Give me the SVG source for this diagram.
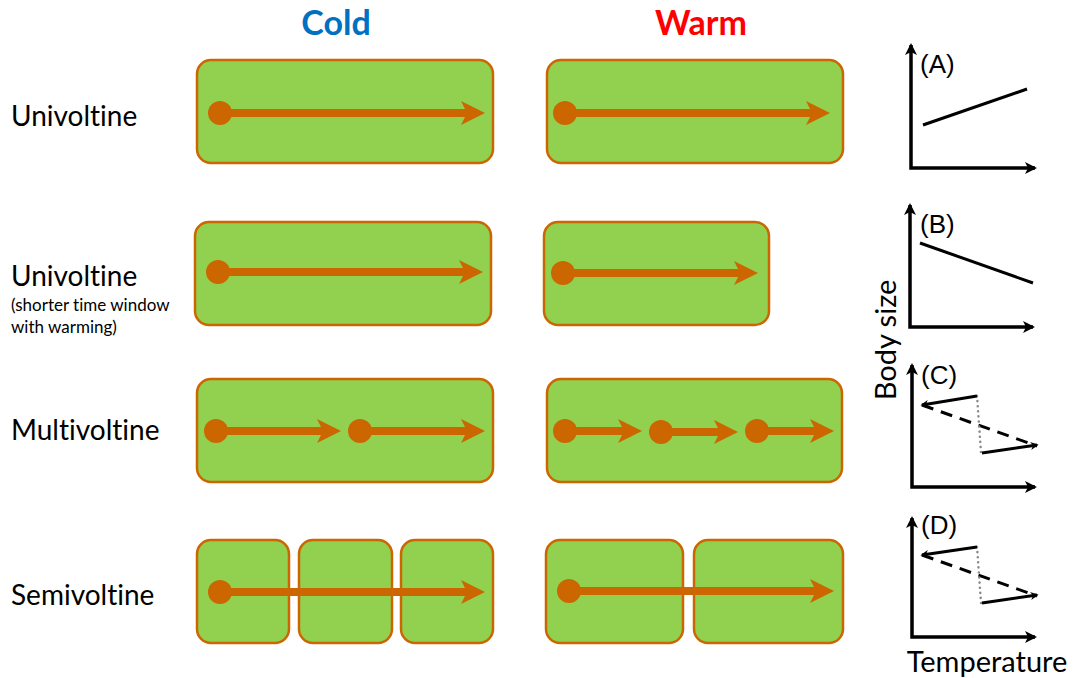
<svg xmlns="http://www.w3.org/2000/svg" width="1075" height="678" viewBox="0 0 1075 678">
  <style>
    .box { fill: #92D050; stroke: #CC6600; stroke-width: 2.5; }
    .shaft { stroke: #CC6600; stroke-width: 8; fill: none; }
    .dot { fill: #CC6600; }
    .label { font-family: Lato, "Open Sans", "Liberation Sans", sans-serif; fill: #000; font-variant-ligatures: none; }
    .row { font-size: 28px; }
    .note { font-size: 17px; }
    .title { font-size: 34px; font-weight: bold; text-anchor: middle; }
    .axis { stroke: #000; stroke-width: 3.5; fill: none; }
    .trend { stroke: #000; stroke-width: 3; fill: none; }
    .dash { stroke: #000; stroke-width: 3; fill: none; stroke-dasharray: 12 8; }
    .dotted { stroke: #888; stroke-width: 2.5; fill: none; stroke-dasharray: 0.1 5; stroke-linecap: round; }
    .panel { font-family: "Liberation Sans", Arial, sans-serif; font-size: 26px; fill: #000; }
    .axtitle { font-family: Lato, "Open Sans", "Liberation Sans", sans-serif; font-size: 29px; fill: #000; font-variant-ligatures: none; }
  </style>
  <defs>
    <!-- filled orange arrowhead; tip lies 16 units past the line end -->
    <marker id="head" viewBox="0 0 24 24" refX="8" refY="12" markerWidth="24" markerHeight="24" markerUnits="userSpaceOnUse" orient="auto">
      <path d="M0,0 L24,12 L0,24 L6,12 Z" fill="#CC6600"/>
    </marker>
    <marker id="axhead" viewBox="0 0 12 12" refX="10" refY="6" markerWidth="12" markerHeight="12" markerUnits="userSpaceOnUse" orient="auto-start-reverse">
      <path d="M0,0 L12,6 L0,12 L3,6 Z" fill="#000"/>
    </marker>
    <marker id="thead" viewBox="0 0 10 10" refX="8" refY="5" markerWidth="8" markerHeight="8" markerUnits="userSpaceOnUse" orient="auto">
      <path d="M0,0 L10,5 L0,10 L3,5 Z" fill="#000"/>
    </marker>
  </defs>

  <!-- column headings -->
  <g id="headings">
    <text class="label title" x="336" y="35" style="fill:#0070C0">Cold</text>
    <text class="label title" x="701" y="35" style="fill:#FF0000">Warm</text>
  </g>

  <!-- row labels -->
  <g id="row-labels">
    <text class="label row" x="11" y="126">Univoltine</text>
    <text class="label row" x="11" y="286">Univoltine</text>
    <text class="label note" x="11" y="311">(shorter time window</text>
    <text class="label note" x="11" y="333">with warming)</text>
    <text class="label row" x="11" y="440">Multivoltine</text>
    <text class="label row" x="11" y="605">Semivoltine</text>
  </g>

  <!-- season blocks -->
  <g id="cold-univoltine"><rect class="box" x="197" y="60" width="296" height="103" rx="14"/></g>
  <g id="warm-univoltine"><rect class="box" x="547" y="60" width="296" height="103" rx="14"/></g>
  <g id="cold-univoltine-short"><rect class="box" x="195" y="222" width="296" height="103" rx="14"/></g>
  <g id="warm-univoltine-short"><rect class="box" x="544" y="222" width="225" height="103" rx="14"/></g>
  <g id="cold-multivoltine"><rect class="box" x="197" y="379" width="296" height="103" rx="14"/></g>
  <g id="warm-multivoltine"><rect class="box" x="547" y="379" width="295" height="103" rx="14"/></g>
  <g id="cold-semivoltine">
    <rect class="box" x="197" y="540" width="92" height="103" rx="14"/>
    <rect class="box" x="299" y="540" width="93" height="103" rx="14"/>
    <rect class="box" x="401" y="540" width="92" height="103" rx="14"/>
  </g>
  <g id="warm-semivoltine">
    <rect class="box" x="546" y="540" width="137" height="103" rx="14"/>
    <rect class="box" x="694" y="540" width="149" height="103" rx="14"/>
  </g>

  <!-- generation arrows -->
  <g id="connectors">
    <circle class="dot" cx="220" cy="113" r="12"/>
    <line class="shaft" x1="220" y1="113" x2="469" y2="113" marker-end="url(#head)"/>
    <circle class="dot" cx="565" cy="113" r="12"/>
    <line class="shaft" x1="565" y1="113" x2="814" y2="113" marker-end="url(#head)"/>

    <circle class="dot" cx="218" cy="272" r="12"/>
    <line class="shaft" x1="218" y1="272" x2="467" y2="272" marker-end="url(#head)"/>
    <circle class="dot" cx="563" cy="273" r="12"/>
    <line class="shaft" x1="563" y1="273" x2="742" y2="273" marker-end="url(#head)"/>

    <circle class="dot" cx="216" cy="431" r="12"/>
    <line class="shaft" x1="216" y1="431" x2="325" y2="431" marker-end="url(#head)"/>
    <circle class="dot" cx="360" cy="431" r="12"/>
    <line class="shaft" x1="360" y1="431" x2="469" y2="431" marker-end="url(#head)"/>

    <circle class="dot" cx="565" cy="431" r="12"/>
    <line class="shaft" x1="565" y1="431" x2="626" y2="431" marker-end="url(#head)"/>
    <circle class="dot" cx="661" cy="432" r="12"/>
    <line class="shaft" x1="661" y1="432" x2="722" y2="432" marker-end="url(#head)"/>
    <circle class="dot" cx="757" cy="431" r="12"/>
    <line class="shaft" x1="757" y1="431" x2="818" y2="431" marker-end="url(#head)"/>

    <circle class="dot" cx="220" cy="592" r="12"/>
    <line class="shaft" x1="220" y1="592" x2="469" y2="592" marker-end="url(#head)"/>
    <circle class="dot" cx="569" cy="591" r="12"/>
    <line class="shaft" x1="569" y1="591" x2="818" y2="591" marker-end="url(#head)"/>
  </g>

  <!-- body size vs temperature panels -->
  <g id="panel-a">
    <polyline class="axis" points="911,45 911,168 1035,168" marker-start="url(#axhead)" marker-end="url(#axhead)"/>
    <line class="trend" x1="923" y1="125" x2="1027" y2="89"/>
    <text class="panel" x="920" y="73">(A)</text>
  </g>
  <g id="panel-b">
    <polyline class="axis" points="910,205 910,327 1033,327" marker-start="url(#axhead)" marker-end="url(#axhead)"/>
    <line class="trend" x1="920" y1="243" x2="1033" y2="283"/>
    <text class="panel" x="920" y="233">(B)</text>
  </g>
  <g id="panel-c">
    <polyline class="axis" points="912,365 912,487 1035,487" marker-start="url(#axhead)" marker-end="url(#axhead)"/>
    <line class="dash" x1="922" y1="405" x2="1037" y2="446"/>
    <line class="dotted" x1="977" y1="396" x2="981" y2="453"/>
    <line class="trend" x1="977" y1="396" x2="922" y2="405" marker-end="url(#thead)"/>
    <line class="trend" x1="982" y1="453" x2="1037" y2="445" marker-end="url(#thead)"/>
    <text class="panel" x="921" y="384">(C)</text>
  </g>
  <g id="panel-d">
    <polyline class="axis" points="912,518 912,637 1035,637" marker-start="url(#axhead)" marker-end="url(#axhead)"/>
    <line class="dash" x1="922" y1="555" x2="1037" y2="596"/>
    <line class="dotted" x1="977" y1="547" x2="981" y2="603"/>
    <line class="trend" x1="977" y1="547" x2="922" y2="555" marker-end="url(#thead)"/>
    <line class="trend" x1="982" y1="603" x2="1037" y2="595" marker-end="url(#thead)"/>
    <text class="panel" x="921" y="534">(D)</text>
  </g>
  <g id="axis-titles">
    <text class="axtitle" transform="translate(896,340) rotate(-90)" text-anchor="middle">Body size</text>
    <text class="axtitle" x="987" y="672" text-anchor="middle">Temperature</text>
  </g>
</svg>
